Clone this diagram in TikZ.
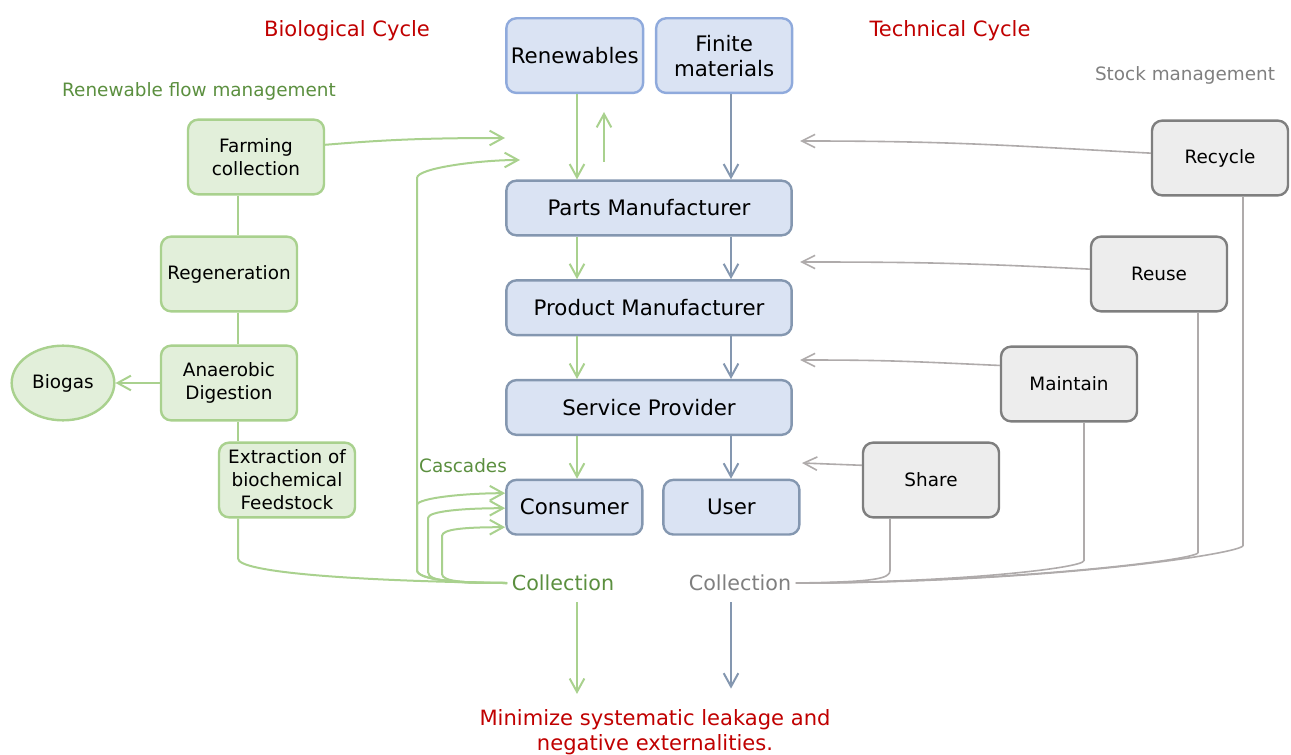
\documentclass[tikz,border=0pt]{standalone}
\usepackage{fontspec}
\setmainfont{DejaVu Sans}
\usepackage{tikz}
\usetikzlibrary{shapes.geometric, arrows.meta, positioning, calc}
\definecolor{bioline}{HTML}{A9D18E}
\definecolor{biofill}{HTML}{E2EFDA}
\definecolor{biotext}{HTML}{5B8F3F}
\definecolor{techfill}{HTML}{DAE3F3}
\definecolor{techedge}{HTML}{8497B0}
\definecolor{topedge}{HTML}{8FAADC}
\definecolor{stockfill}{HTML}{EDEDED}
\definecolor{stockedge}{HTML}{7F7F7F}
\definecolor{stockline}{HTML}{AFABAB}
\definecolor{leakred}{HTML}{C00000}
\tikzset{
    block_green/.style={rectangle, draw=bioline, line width=1.8pt, rounded corners=7.5pt, fill=biofill, minimum width=102pt, minimum height=56pt, align=center, font=\fontsize{13.8}{17.25}\selectfont},
    ellipse_green/.style={ellipse, draw=bioline, line width=1.8pt, fill=biofill, minimum width=77pt, minimum height=56pt, font=\fontsize{13.8}{17.25}\selectfont},
    block_blue/.style={rectangle, draw=techedge, line width=1.8pt, rounded corners=7.5pt, fill=techfill, minimum width=214pt, minimum height=41pt, align=center, font=\fontsize{16}{18.75}\selectfont},
    block_small/.style={block_blue, minimum width=102pt},
    block_top/.style={block_blue, draw=topedge, minimum width=102pt, minimum height=56pt},
    block_gray/.style={rectangle, draw=stockedge, line width=1.8pt, rounded corners=7.5pt, fill=stockfill, minimum width=102pt, minimum height=56pt, align=center, font=\fontsize{13.8}{17.25}\selectfont},
    title_red/.style={text=leakred, align=center, font=\fontsize{15.8}{18.75}\selectfont},
    label_green/.style={text=biotext, font=\fontsize{13.8}{17}\selectfont},
    label_gray/.style={text=stockedge, font=\fontsize{13.8}{17}\selectfont},
    line_green/.style={draw=bioline, line width=1.5pt},
    line_gray/.style={draw=stockline, line width=1.2pt},
    arrow_green/.style={line_green, -{Straight Barb[length=10pt, width=11pt]}},
    arrow_blue/.style={draw=techedge, line width=1.5pt, -{Straight Barb[length=10pt, width=11pt]}},
    arrow_gray/.style={line_gray, -{Straight Barb[length=10pt, width=10pt]}}
}
\begin{document}
\begin{tikzpicture}[x=0.75pt, y=-0.75pt, node distance=32pt and 14pt]
			\useasboundingbox (0,0) rectangle (1291,755);
			% Headings
			\node (bio_title) [title_red] at (347,31) {Biological Cycle};
			\node (tech_title) [title_red] at (950,31) {Technical Cycle};
			\node (flow_label) [label_green] at (199,91) {Renewable flow management};
			\node (stock_label) [label_gray] at (1185,75) {Stock management};
			
			% Centre Column
			\node (parts) [block_blue] at (649,208) {Parts Manufacturer};
			\node (prod) [block_blue, below=of parts] {Product Manufacturer};
			\node (serv) [block_blue, below=of prod] {Service Provider};
			\node (cons) [block_small, below=of serv.south west, anchor=north west] {Consumer};
			\node (user) [block_small, right=of cons] {User};
			\node (ren) [block_top, above=64pt of parts.north west, anchor=south west] {Renewables};
			\node (fin) [block_top, right=8pt of ren] {Finite\\materials};
			
			% Biological Side
			\node (farm) [block_green] at (256,157) {Farming\\collection};
			\node (regen) [block_green] at (229,274) {Regeneration};
			\node (anaer) [block_green] at (229,383) {Anaerobic\\Digestion};
			\node (biogas) [ellipse_green] at (63,383) {Biogas};
			\node (extr) [block_green] at (287,480) {Extraction of\\biochemical\\Feedstock};
			
			% Technical Side
			\node (recy) [block_gray] at (1220,158) {Recycle};
			\node (reuse) [block_gray] at (1159,274) {Reuse};
			\node (maint) [block_gray] at (1069,384) {Maintain};
			\node (share) [block_gray] at (931,480) {Share};
			
			% Collection and Leakage
			\node (casc) [label_green] at (463,466) {Cascades};
			\node (col_bio) [label_green, font=\fontsize{15.5}{18}\selectfont] at (563,583) {Collection};
			\node (col_tech) [label_gray, font=\fontsize{15.5}{18}\selectfont] at (740,583) {Collection};
			\node (leak) [title_red] at (655,732) {Minimize systematic leakage and\\negative externalities.};
			
			\coordinate (bio_x) at (577,0);
			\coordinate (tech_x) at (731,0);
			\coordinate (spine) at (238,0);
			\coordinate (farm_in) at (505,138);
			\coordinate (loop_in) at (520,160);
			\coordinate (up_from) at (604,162);
			\coordinate (up_to) at (604,112);
			\coordinate (recy_in) at (800,141);
			\coordinate (reuse_in) at (800,262);
			\coordinate (maint_in) at (800,360);
			\coordinate (share_in) at (802,463);
			
			% Connections
			\draw [arrow_green] (ren.south -| bio_x) -- (parts.north -| bio_x);
			\draw [arrow_green] (up_from) -- (up_to);
			\draw [arrow_green] (parts.south -| bio_x) -- (prod.north -| bio_x);
			\draw [arrow_green] (prod.south -| bio_x) -- (serv.north -| bio_x);
			\draw [arrow_green] (serv.south -| bio_x) -- (cons.north -| bio_x);
			\draw [arrow_green, shorten <=5pt, shorten >=8pt] (col_bio.south -| bio_x) -- (leak.north -| bio_x);
			
			\draw [arrow_blue] (fin.south -| tech_x) -- (parts.north -| tech_x);
			\draw [arrow_blue] (parts.south -| tech_x) -- (prod.north -| tech_x);
			\draw [arrow_blue] (prod.south -| tech_x) -- (serv.north -| tech_x);
			\draw [arrow_blue] (serv.south -| tech_x) -- (user.north -| tech_x);
			\draw [arrow_blue, shorten <=5pt, shorten >=12pt] (col_tech.south -| tech_x) -- (leak.north -| tech_x);
			
			\draw [line_green] (farm.south -| spine) -- (regen.north -| spine);
			\draw [line_green] (regen.south -| spine) -- (anaer.north -| spine);
			\draw [line_green] (anaer.south -| spine) -- (extr.north -| spine);
			\draw [arrow_green] (anaer) -- (biogas);
			\draw [arrow_green] (farm.10) .. controls +(60,-5) and +(-80,0) .. (farm_in);
			\draw [line_green] (extr.south -| spine) -- ++(0,40) .. controls +(0,14) and +(-150,-2) .. (col_bio.west);
			
			% Loop back and cascades
			\draw [arrow_green] (col_bio.west) .. controls +(-50,0) and +(0,10) .. (417,570) -- (417,178) .. controls +(0,-10) and +(-40,0) .. (loop_in);
			\draw [arrow_green] (col_bio.west) .. controls +(-50,0) and +(0,10) .. (417,570) -- (417,505) .. controls +(0,-7) and +(-40,0) .. ($(cons.west)+(0,-14)$);
			\draw [arrow_green] (col_bio.west) .. controls +(-50,0) and +(0,10) .. (428,572) -- (428,518) .. controls +(0,-7) and +(-40,0) .. ($(cons.west)+(0,1)$);
			\draw [arrow_green] (col_bio.west) .. controls +(-40,0) and +(0,8) .. (442,574) -- (442,536) .. controls +(0,-7) and +(-40,0) .. ($(cons.west)+(0,20)$);
			
			% Stock management
			\draw [arrow_gray] (recy.176) .. controls +(-150,-8) and +(150,0) .. (recy_in);
			\draw [arrow_gray] (reuse.176) .. controls +(-120,-6) and +(120,0) .. (reuse_in);
			\draw [arrow_gray] (maint.165) .. controls +(-90,-4) and +(90,0) .. (maint_in);
			\draw [arrow_gray] (share.168) -- (share_in);
			
			\draw [line_gray] ($(share.south)+(-41,0)$) -- ++(0,52) .. controls +(0,8) and +(80,-1) .. (col_tech.east);
			\draw [line_gray] ($(maint.south)+(15,0)$) -- ++(0,138) .. controls +(0,8) and +(150,0) .. (col_tech.east);
			\draw [line_gray] ($(reuse.south)+(39,0)$) -- ++(0,240) .. controls +(0,8) and +(200,0) .. (col_tech.east);
			\draw [line_gray] ($(recy.south)+(23,0)$) -- ++(0,349) .. controls +(0,8) and +(250,0) .. (col_tech.east);
		\end{tikzpicture}
\end{document}
